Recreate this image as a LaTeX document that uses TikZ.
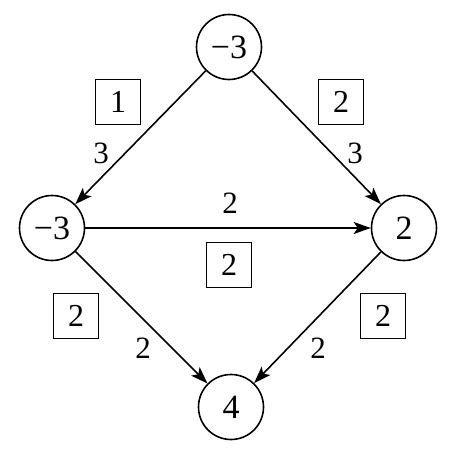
\documentclass[tikz,border=0pt]{standalone}
\usepackage{fontspec}
\setmainfont{Liberation Serif}
\usetikzlibrary{arrows.meta}
\begin{document}
\begin{tikzpicture}[x=1pt,y=-1pt,
  vert/.style={circle,draw,line width=1.6pt,minimum size=65pt,inner sep=0pt,font=\fontsize{34}{40}\selectfont},
  lbl/.style={font=\fontsize{31}{36}\selectfont,inner sep=0pt},
  boxlbl/.style={draw,line width=1.5pt,minimum size=45pt,inner sep=0pt,font=\fontsize{32}{38}\selectfont},
  edge/.style={line width=1.6pt,-{Stealth[length=17pt,width=12pt,inset=4pt]}}]
\useasboundingbox (0,0) rectangle (466,460);
\node[vert] (t) at (229,47) {−3};
\node[vert] (l) at (52,228) {−3};
\node[vert] (r) at (404,228) {2};
\node[vert] (b) at (231,407) {4};
\draw[edge] (t) -- (l);
\draw[edge] (t) -- (r);
\draw[edge] (l) -- (r);
\draw[edge] (l) -- (b);
\draw[edge] (r) -- (b);
\node[boxlbl] (bx1) at (118,102) {1};
\node[lbl] (c1) at (101,153) {3};
\node[boxlbl] (bx2) at (341,102) {2};
\node[lbl] (c2) at (355,153) {3};
\node[lbl] (c3) at (230,203) {2};
\node[boxlbl] (bx3) at (229,265) {2};
\node[boxlbl] (bx4) at (76,316) {2};
\node[lbl] (c4) at (143,348) {2};
\node[boxlbl] (bx5) at (383,316) {2};
\node[lbl] (c5) at (318,348) {2};
\end{tikzpicture}
\end{document}
